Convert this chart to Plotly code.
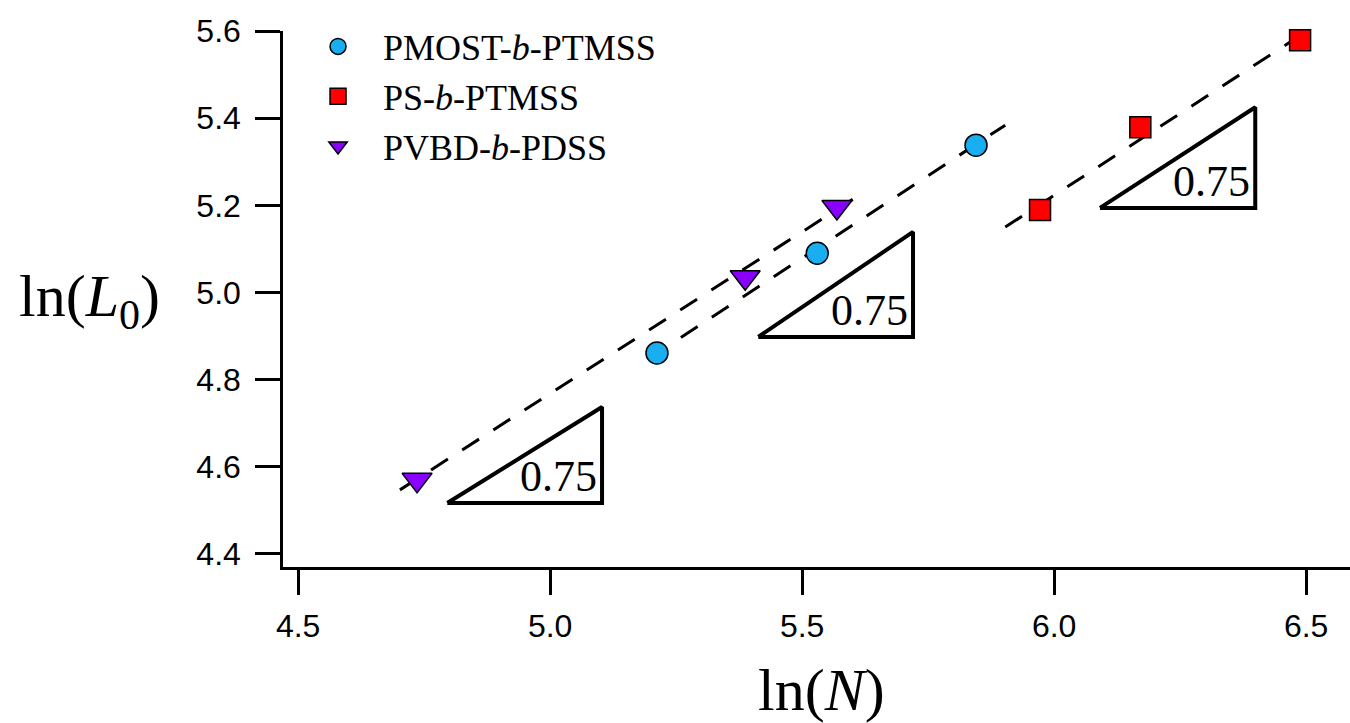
import plotly.graph_objects as go

# ---- data ----
pmost_x = [5.212, 5.530, 5.845]
pmost_y = [4.861, 5.090, 5.338]

ps_x = [5.972, 6.171, 6.488]
ps_y = [5.189, 5.379, 5.579]

pvbd_x = [4.736, 5.387, 5.569]
pvbd_y = [4.570, 5.035, 5.196]

# dashed fit lines (start, end)
fit_a_x = [4.702, 5.605]
fit_a_y = [4.547, 5.217]
fit_b_x = [5.198, 5.903]
fit_b_y = [4.850, 5.384]
fit_c_x = [5.903, 6.498]
fit_c_y = [5.150, 5.597]

# slope triangles: (x_left, x_right, y_bottom, y_top)
tri_x0 = [4.796, 5.413, 6.091]
tri_x1 = [5.103, 5.720, 6.399]
tri_y0 = [4.517, 4.898, 5.194]
tri_y1 = [4.737, 5.139, 5.425]
tri_label = "0.75"

x_ticks = [4.5, 5.0, 5.5, 6.0, 6.5]
y_ticks = [4.4, 4.6, 4.8, 5.0, 5.2, 5.4, 5.6]

SERIF = "Liberation Serif, Times New Roman, serif"
SANS = "Liberation Sans, Arial, sans-serif"

fig = go.Figure()

dash_style = dict(color="black", width=3, dash="20px,17px")
for fx, fy in [(fit_a_x, fit_a_y), (fit_b_x, fit_b_y), (fit_c_x, fit_c_y)]:
    fig.add_trace(go.Scatter(x=fx, y=fy, mode="lines", line=dash_style,
                             showlegend=False, hoverinfo="skip"))

for i in range(len(tri_x0)):
    fig.add_trace(go.Scatter(
        x=[tri_x0[i], tri_x1[i], tri_x1[i], tri_x0[i]],
        y=[tri_y0[i], tri_y0[i], tri_y1[i], tri_y0[i]],
        mode="lines", line=dict(color="black", width=4),
        showlegend=False, hoverinfo="skip"))
    fig.add_annotation(x=tri_x1[i], y=tri_y0[i], xref="x", yref="y",
                       text=tri_label, showarrow=False,
                       xanchor="right", yanchor="bottom", xshift=-3, yshift=0,
                       font=dict(family=SERIF, size=44, color="black"))

mline = dict(color="black", width=1.5)
fig.add_trace(go.Scatter(x=pmost_x, y=pmost_y, mode="markers",
                         name="PMOST-<i>b</i>-PTMSS", cliponaxis=False,
                         marker=dict(symbol="circle", size=22, color="#18aef0", line=mline)))
fig.add_trace(go.Scatter(x=ps_x, y=ps_y, mode="markers",
                         name="PS-<i>b</i>-PTMSS", cliponaxis=False,
                         marker=dict(symbol="square", size=21, color="#ff0000", line=mline)))
fig.add_trace(go.Scatter(x=pvbd_x, y=pvbd_y, mode="markers",
                         name="PVBD-<i>b</i>-PDSS", cliponaxis=False,
                         marker=dict(symbol="triangle-down", size=26, color="#8a00ff", line=mline)))

fig.add_annotation(text="ln(<i>N</i>)", xref="paper", yref="paper", x=0.505, y=-0.229,
                   xanchor="center", yanchor="middle", showarrow=False,
                   font=dict(family=SERIF, size=60, color="black"))
fig.add_annotation(text="ln(<i>L</i><sub>0</sub>)", xref="paper", yref="paper", x=-0.181, y=0.498,
                   xanchor="center", yanchor="middle", showarrow=False,
                   font=dict(family=SERIF, size=60, color="black"))

axis_common = dict(showline=True, linecolor="black", linewidth=2.5, mirror=False,
                   ticks="outside", ticklen=25, tickwidth=2.5, tickcolor="black",
                   showgrid=False, zeroline=False, tickformat=".1f",
                   tickfont=dict(family=SANS, size=32, color="black"))

fig.update_layout(
    width=1350, height=723,
    margin=dict(l=283, r=0, t=31, b=156),
    paper_bgcolor="white", plot_bgcolor="white",
    xaxis=dict(range=[4.470, 6.587], tickvals=x_ticks, ticklabelstandoff=4, **axis_common),
    yaxis=dict(range=[4.370, 5.600], tickvals=y_ticks, ticklabelstandoff=8, **axis_common),
    legend=dict(x=0.0094, y=1.027, xanchor="left", yanchor="top",
                font=dict(family=SERIF, size=36, color="black"),
                itemwidth=80, tracegroupgap=0, bgcolor="rgba(0,0,0,0)"),
    showlegend=True,
)

fig.write_html("out.html", config={"displayModeBar": False},
               post_script="document.body.style.margin='0';")
